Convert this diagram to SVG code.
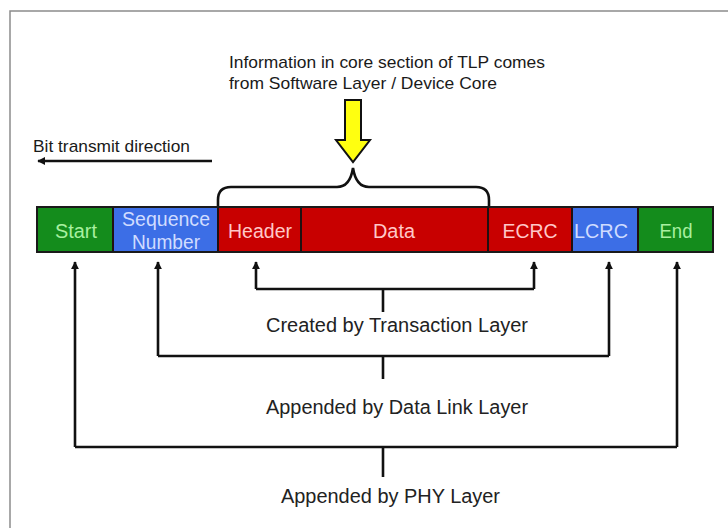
<svg xmlns="http://www.w3.org/2000/svg" width="728" height="528" viewBox="0 0 728 528">
  <style>
    text { font-family: "Liberation Sans", Arial, sans-serif; }
    .lbl { font-size: 20px; fill: #222; }
    .cap { font-size: 17px; fill: #1a1a1a; }
    .blk { font-size: 20px; text-anchor: middle; }
    .wire { fill: none; stroke: #111; stroke-width: 2.6; }
    .g { fill: #148c1c; }
    .b { fill: #3c6ee6; }
    .r { fill: #c80000; }
    .gt { fill: #a8f0a0; }
    .bt { fill: #d0dcff; }
    .rt { fill: #ffc8c8; }
    .sep { stroke: #201010; stroke-width: 2; }
  </style>
  <defs>
    <marker id="tip" viewBox="0 0 10 10" refX="9" refY="5" markerWidth="3.2" markerHeight="3.2" orient="auto">
      <path d="M0,0 L10,5 L0,10 Z" fill="#111"/>
    </marker>
    <marker id="tip-big" viewBox="0 0 10 10" refX="9" refY="5" markerWidth="3" markerHeight="3" orient="auto">
      <path d="M0,0 L10,5 L0,10 Z" fill="#111"/>
    </marker>
  </defs>

  <rect width="728" height="528" fill="#ffffff"/>
  <!-- outer frame -->
  <path d="M10,528 V11 H728" fill="none" stroke="#8c8c8c" stroke-width="1.5"/>

  <!-- heading -->
  <g id="core-note">
    <text class="cap" x="229" y="68" textLength="316" lengthAdjust="spacingAndGlyphs">Information in core section of TLP comes</text>
    <text class="cap" x="229" y="89" textLength="268" lengthAdjust="spacingAndGlyphs">from Software Layer / Device Core</text>
    <path d="M345,100 H361 V140 H370 L353,162 L336,140 H345 Z" fill="#ffff10" stroke="#111" stroke-width="2" stroke-linejoin="miter"/>
  </g>

  <!-- bit direction -->
  <g id="bit-direction">
    <text class="cap" x="33" y="152" textLength="157" lengthAdjust="spacingAndGlyphs">Bit transmit direction</text>
    <line x1="212" y1="161" x2="38" y2="161" class="wire" stroke-width="3.2" marker-end="url(#tip-big)"/>
  </g>

  <!-- brace over core section -->
  <g id="brace">
    <path class="wire" stroke-width="2" d="M218,207 V200 Q218,187 231,187 H337 Q350,187 353,168 Q356,187 369,187 H476 Q489,187 489,200 V207"/>
  </g>

  <!-- TLP fields -->
  <g id="field-start">
    <rect class="g" x="37" y="207" width="76" height="45"/>
    <text class="blk gt" x="76" y="238" textLength="42" lengthAdjust="spacingAndGlyphs">Start</text>
  </g>
  <g id="field-sequence">
    <rect class="b" x="113" y="207" width="105" height="45"/>
    <text class="blk bt" x="166" y="226" textLength="88" lengthAdjust="spacingAndGlyphs">Sequence</text>
    <text class="blk bt" x="166" y="249" textLength="68" lengthAdjust="spacingAndGlyphs">Number</text>
  </g>
  <g id="field-header">
    <rect class="r" x="218" y="207" width="83" height="45"/>
    <text class="blk rt" x="260" y="238" textLength="64" lengthAdjust="spacingAndGlyphs">Header</text>
  </g>
  <g id="field-data">
    <rect class="r" x="301" y="207" width="187" height="45"/>
    <text class="blk rt" x="394" y="238" textLength="42" lengthAdjust="spacingAndGlyphs">Data</text>
  </g>
  <g id="field-ecrc">
    <rect class="r" x="488" y="207" width="84" height="45"/>
    <text class="blk rt" x="530" y="238" textLength="55" lengthAdjust="spacingAndGlyphs">ECRC</text>
  </g>
  <g id="field-lcrc">
    <rect class="b" x="572" y="207" width="66" height="45"/>
    <text class="blk bt" x="601" y="238" textLength="54" lengthAdjust="spacingAndGlyphs">LCRC</text>
  </g>
  <g id="field-end">
    <rect class="g" x="638" y="207" width="75" height="45"/>
    <text class="blk gt" x="676" y="238" textLength="33" lengthAdjust="spacingAndGlyphs">End</text>
  </g>
  <!-- field borders -->
  <g id="field-borders">
    <line class="sep" x1="113" y1="207" x2="113" y2="252"/>
    <line class="sep" x1="218" y1="207" x2="218" y2="252"/>
    <line class="sep" x1="301" y1="207" x2="301" y2="252"/>
    <line class="sep" x1="488" y1="207" x2="488" y2="252"/>
    <line class="sep" x1="572" y1="207" x2="572" y2="252"/>
    <line class="sep" x1="638" y1="207" x2="638" y2="252"/>
    <rect x="37" y="207" width="676" height="45" fill="none" stroke="#1a1a1a" stroke-width="2"/>
  </g>

  <!-- layer connectors -->
  <g id="connectors">
    <path class="wire" d="M256,289 V262" marker-end="url(#tip)"/>
    <path class="wire" d="M534,289 V262" marker-end="url(#tip)"/>
    <path class="wire" d="M256,289 H534 M383,289 V312"/>

    <path class="wire" d="M158,356 V262" marker-end="url(#tip)"/>
    <path class="wire" d="M609,356 V262" marker-end="url(#tip)"/>
    <path class="wire" d="M158,356 H609 M383,356 V379"/>

    <path class="wire" d="M75,447 V262" marker-end="url(#tip)"/>
    <path class="wire" d="M677,447 V262" marker-end="url(#tip)"/>
    <path class="wire" d="M75,447 H677 M383,447 V477"/>
  </g>

  <!-- layer labels -->
  <g id="label-transaction">
    <text class="lbl" x="266" y="332" textLength="262" lengthAdjust="spacingAndGlyphs">Created by Transaction Layer</text>
  </g>
  <g id="label-datalink">
    <text class="lbl" x="266" y="414" textLength="262" lengthAdjust="spacingAndGlyphs">Appended by Data Link Layer</text>
  </g>
  <g id="label-phy">
    <text class="lbl" x="281" y="503" textLength="219" lengthAdjust="spacingAndGlyphs">Appended by PHY Layer</text>
  </g>
</svg>
